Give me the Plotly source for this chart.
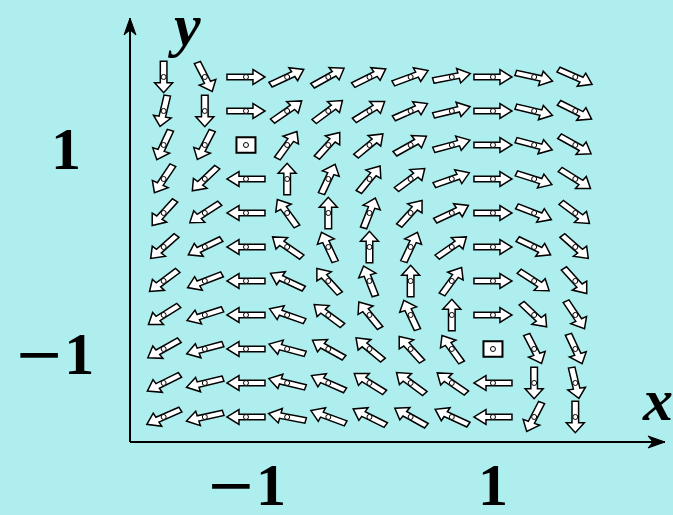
import math
import plotly.graph_objects as go

# grid of sample points
xs = [-5/3, -4/3, -1, -2/3, -1/3, 0, 1/3, 2/3, 1, 4/3, 5/3]
ys = [5/3, 4/3, 1, 2/3, 1/3, 0, -1/3, -2/3, -1, -4/3, -5/3]

# arrow directions (degrees, in data space), one row per y from top to bottom; None = zero vector
angles = [
    [-90, -67, 0, 29, 34, 31, 24, 13, 0, -15, -28],
    [-101, -90, 0, 40, 42, 37, 28, 16, 0, -16, -31],
    [-111, -113, None, 59, 53, 45, 34, 18, 0, -18, -34],
    [-119, -131, 180, 90, 69, 56, 42, 23, 0, -21, -37],
    [-127, -142, 180, 121, 90, 72, 53, 29, 0, -25, -42],
    [-133, -150, 180, 140, 111, 90, 69, 40, 0, -30, -47],
    [-138, -155, 180, 151, 127, 108, 90, 59, 0, -38, -53],
    [-143, -159, 180, 157, 138, 124, 111, 90, 0, -49, -61],
    [-146, -162, 180, 162, 146, 135, 127, 121, None, -67, -69],
    [-149, -164, 180, 164, 152, 143, 138, 140, 180, -90, -79],
    [-152, -165, 180, 167, 156, 149, 146, 151, 180, -113, -90],
]

x_ticks = [-1, 1]
MINUS = "<span style='font-family:DejaVu Serif;font-weight:normal'>\u2212</span>"
x_ticktext = [MINUS + "1", "1"]
y_ticks = [1, -1]
y_ticktext = ["1", MINUS + "1"]

BG = "#AFEEEE"
FONT = "Liberation Serif"

# block arrow outline along +x, centred on the sample point (units of 1/123.5 data)
UNIT = 1 / 123.5
ARROW = [(-19, -3.3), (7, -3.3), (7, -9), (19, 0), (7, 9), (7, 3.3), (-19, 3.3)]
BOX = 9.5


def arrow_path(x, y, deg):
    a = math.radians(deg)
    c, s = math.cos(a), math.sin(a)
    pts = [(x + (px * c - py * s) * UNIT, y + (px * s + py * c) * UNIT) for px, py in ARROW]
    return "M " + " L ".join(f"{px:.5f},{py:.5f}" for px, py in pts) + " Z"


shapes = []
for j, y in enumerate(ys):
    for i, x in enumerate(xs):
        ang = angles[j][i]
        if ang is None:
            shapes.append(dict(
                type="rect", xref="x", yref="y",
                x0=x - BOX * UNIT, x1=x + BOX * UNIT, y0=y - BOX * UNIT, y1=y + BOX * UNIT,
                fillcolor="white", line=dict(color="black", width=2), layer="below",
            ))
            continue
        shapes.append(dict(
            type="path", xref="x", yref="y",
            path=arrow_path(x, y, ang), fillcolor="white",
            line=dict(color="black", width=1.5), layer="below",
        ))

# axes with stealth heads
shapes += [
    dict(type="line", xref="paper", yref="paper", x0=0, y0=0, x1=1, y1=0,
         line=dict(color="black", width=2)),
    dict(type="line", xref="paper", yref="paper", x0=0, y0=0, x1=0, y1=1,
         line=dict(color="black", width=2)),
    dict(type="path", xref="paper", yref="paper", xsizemode="pixel", ysizemode="pixel",
         xanchor=1, yanchor=0, path="M 0,0 L -17,6 L -12,0 L -17,-6 Z",
         fillcolor="black", line=dict(color="black", width=1)),
    dict(type="path", xref="paper", yref="paper", xsizemode="pixel", ysizemode="pixel",
         xanchor=0, yanchor=1, path="M 0,0 L -6,-17 L 0,-12 L 6,-17 Z",
         fillcolor="black", line=dict(color="black", width=1)),
]

fig = go.Figure()
fig.add_trace(go.Scatter(
    x=[x for y in ys for x in xs], y=[y for y in ys for x in xs], mode="markers",
    marker=dict(symbol="circle", size=5, color="white", line=dict(color="black", width=1)),
    hoverinfo="skip",
))

tick_font = dict(family=FONT, size=60, color="black", weight="bold")
label_font = dict(family=FONT, size=60, color="black", weight="bold", style="italic")
annotations = [
    dict(text=y_ticktext[0], xref="paper", yref="y", x=0, y=y_ticks[0], xshift=-64, yshift=-4,
         showarrow=False, xanchor="center", yanchor="middle", font=tick_font),
    dict(text=y_ticktext[1], xref="paper", yref="y", x=0, y=y_ticks[1], xshift=-76, yshift=-4,
         showarrow=False, xanchor="center", yanchor="middle", font=tick_font),
    dict(text="x", xref="paper", yref="paper", x=1, y=0, xshift=-8, yshift=42,
         showarrow=False, xanchor="center", yanchor="middle", font=label_font),
    dict(text="y", xref="paper", yref="paper", x=0, y=1, xshift=54, yshift=-7,
         showarrow=False, xanchor="center", yanchor="middle", font=label_font),
]

fig.update_layout(
    width=673, height=515,
    margin=dict(l=130, r=8, t=18, b=73, autoexpand=False),
    paper_bgcolor=BG, plot_bgcolor=BG,
    showlegend=False,
    shapes=shapes,
    annotations=annotations,
    xaxis=dict(range=[-1.939, 2.393], showgrid=False, zeroline=False, showline=False,
               tickvals=x_ticks, ticktext=x_ticktext, ticks="", ticklabelstandoff=2,
               tickfont=tick_font, automargin=False, fixedrange=True),
    yaxis=dict(range=[-1.912, 2.245], showgrid=False, zeroline=False, showline=False,
               showticklabels=False, ticks="", automargin=False, fixedrange=True),
)

fig.write_html("out.html", config={"displayModeBar": False},
               post_script="document.body.style.margin='0';")
